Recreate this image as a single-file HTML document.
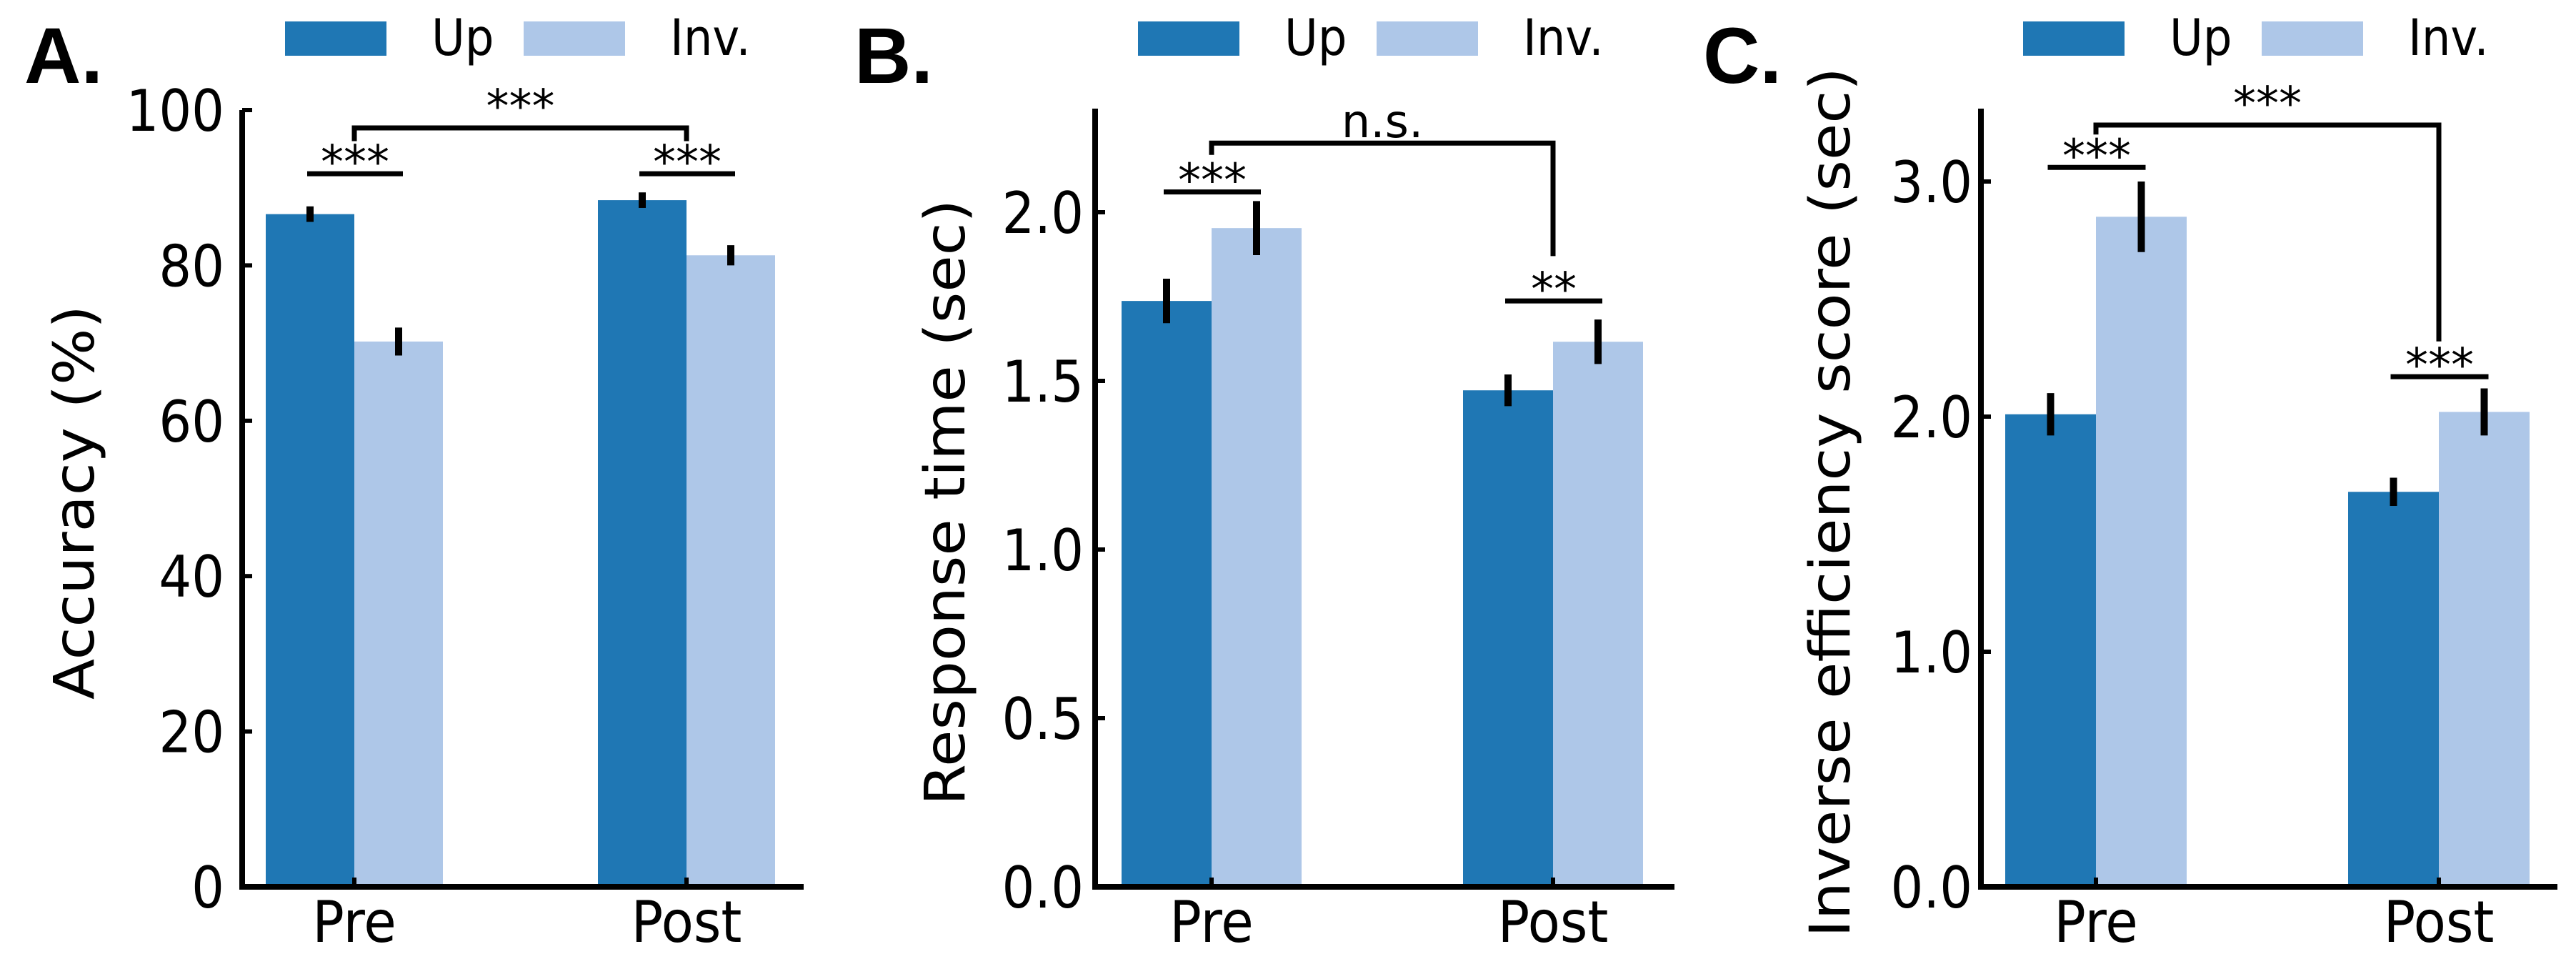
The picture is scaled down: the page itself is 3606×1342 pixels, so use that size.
<!DOCTYPE html>
<html><head><meta charset="utf-8"><style>
html,body{margin:0;padding:0;background:#fff;}
svg{display:block;font-family:"DejaVu Sans","Liberation Sans",sans-serif;}
</style></head><body>
<svg id="fig" width="3606" height="1342" viewBox="0 0 3606 1342" xmlns="http://www.w3.org/2000/svg"></svg>
<script>
const categories = ["Pre", "Post"];
const seriesNames = ["Up", "Inv."];
const accUp = [86.6, 88.4];
const accInv = [70.2, 81.3];
const accUpErr = [1.0, 1.0];
const accInvErr = [1.8, 1.3];
const accTicks = [0, 20, 40, 60, 80, 100];
const accTickLabels = ["0", "20", "40", "60", "80", "100"];
const rtUp = [1.737, 1.472];
const rtInv = [1.953, 1.616];
const rtUpErr = [0.066, 0.047];
const rtInvErr = [0.08, 0.066];
const rtTicks = [0, 0.5, 1.0, 1.5, 2.0];
const rtTickLabels = ["0.0", "0.5", "1.0", "1.5", "2.0"];
const ieUp = [2.01, 1.68];
const ieInv = [2.85, 2.02];
const ieUpErr = [0.09, 0.06];
const ieInvErr = [0.15, 0.10];
const ieTicks = [0, 1.0, 2.0, 3.0];
const ieTickLabels = ["0.0", "1.0", "2.0", "3.0"];

const NS = "http://www.w3.org/2000/svg";
const svg = document.getElementById("fig");
function mk(tag, attrs, parent) {
  const e = document.createElementNS(NS, tag);
  for (const k in attrs) e.setAttribute(k, attrs[k]);
  (parent || svg).appendChild(e);
  return e;
}
const UPC = "#1f77b4", INVC = "#aec7e8";

const panels = [
  {letter:"A.", lx:34, name:"accuracy", ylabel:"Accuracy (%)", ylx:103, axX:339, axEnd:1125, y0:1241, ymax:100, ytop:154,
   centers:[496,961], bw:124, up:accUp, inv:accInv, upE:accUpErr, invE:accInvErr, ticks:accTicks, tl:accTickLabels, tlx:314,
   leg:399, big:{y:97.7, l:96, r:96, txt:"***"}, pairs:[{y:91.8, txt:"***"},{y:91.8, txt:"***"}]},
  {letter:"B.", lx:1196, name:"response-time", ylabel:"Response time (sec)", ylx:1322, axX:1533, axEnd:2344, y0:1241, ymax:2.0, ytop:152,
   centers:[1696,2174], bw:126, up:rtUp, inv:rtInv, upE:rtUpErr, invE:rtInvErr, ticks:rtTicks, tl:rtTickLabels, tlx:1517,
   leg:1593, big:{y:2.205, l:2.17, r:1.87, txt:"n.s."}, pairs:[{y:2.06, txt:"***"},{y:1.737, txt:"**"}]},
  {letter:"C.", lx:2384, name:"inverse-efficiency", ylabel:"Inverse efficiency score (sec)", ylx:2561, axX:2773, axEnd:3580, y0:1241, ymax:3.0, ytop:152,
   centers:[2934,3414], bw:127, up:ieUp, inv:ieInv, upE:ieUpErr, invE:ieInvErr, ticks:ieTicks, tl:ieTickLabels, tlx:2761,
   leg:2832, big:{y:3.24, l:3.2, r:2.32, txt:"***"}, pairs:[{y:3.06, txt:"***"},{y:2.17, txt:"***"}]}
];
const tickPx = [154, 297, 254];

panels.forEach((p, pi) => {
  const g = mk("g", {});
  
  
  const maxTickY = tickPx[pi];
  const scale = (p.y0 - maxTickY) / p.ymax;
  const Y = v => p.y0 - v * scale;

  categories.forEach((c, i) => {
    const cx = p.centers[i];
    const b1 = mk("rect", {x:cx - p.bw, y:Y(p.up[i]), width:p.bw, height:p.y0 - Y(p.up[i]), fill:UPC}, g);
    
    
    const b2 = mk("rect", {x:cx, y:Y(p.inv[i]), width:p.bw, height:p.y0 - Y(p.inv[i]), fill:INVC}, g);
    
    
    const e1 = mk("line", {x1:cx - p.bw/2, x2:cx - p.bw/2, y1:Y(p.up[i] - p.upE[i]), y2:Y(p.up[i] + p.upE[i]), stroke:"#000", "stroke-width":10}, g);
    
    
    const e2 = mk("line", {x1:cx + p.bw/2, x2:cx + p.bw/2, y1:Y(p.inv[i] - p.invE[i]), y2:Y(p.inv[i] + p.invE[i]), stroke:"#000", "stroke-width":10}, g);
    
    
    mk("line", {x1:cx, x2:cx, y1:p.y0, y2:p.y0 - 13, stroke:"#000", "stroke-width":6}, g);
    const xl = mk("text", {x:0, y:0, "font-size":74, "text-anchor":"middle", fill:"#000", transform:`translate(${cx},1318) scale(1,1.08)`}, g);
    xl.textContent = c;
    
    
  });

  const ya = mk("line", {x1:p.axX, x2:p.axX, y1:p.ytop, y2:p.y0 + 4, stroke:"#000", "stroke-width":8}, g);
  
  
  const xa = mk("line", {x1:p.axX - 4, x2:p.axEnd, y1:p.y0, y2:p.y0, stroke:"#000", "stroke-width":8}, g);
  
  

  p.ticks.forEach((t, k) => {
    mk("line", {x1:p.axX, x2:p.axX + 14, y1:Y(t), y2:Y(t), stroke:"#000", "stroke-width":6}, g);
    const tl = mk("text", {x:0, y:0, "font-size":72, "text-anchor":"end", fill:"#000", transform:`translate(${p.tlx},${Y(t) + 29}) scale(1,1.12)`}, g);
    tl.textContent = p.tl[k];
    
    
  });

  const yl = mk("text", {x:0, y:0, "font-size":78, "text-anchor":"middle", fill:"#000", transform:`translate(${p.ylx + 28},703) rotate(-90) scale(1.07,1)`}, g);
  yl.textContent = p.ylabel;
  
  

  const lt = mk("text", {x:p.lx, y:116, "font-size":110, "font-weight":"bold", "font-family":"Liberation Sans, sans-serif", fill:"#000"}, g);
  lt.textContent = p.letter;
  
  

  [[UPC, seriesNames[0], 0], [INVC, seriesNames[1], 334]].forEach(([col, nm, off]) => {
    const lg = mk("g", {}, g);
    
    
    mk("rect", {x:p.leg + off, y:30, width:142, height:48, fill:col}, lg);
    const t = mk("text", {x:0, y:0, "font-size":64, fill:"#000", transform:`translate(${p.leg + off + 205},77) scale(1,1.1)`}, lg);
    t.textContent = nm;
  });

  const bg = mk("g", {}, g);
  
  
  const bx1 = p.centers[0], bx2 = p.centers[1];
  mk("polyline", {points:`${bx1},${Y(p.big.l)} ${bx1},${Y(p.big.y)} ${bx2},${Y(p.big.y)} ${bx2},${Y(p.big.r)}`, fill:"none", stroke:"#000", "stroke-width":7}, bg);
  const bt = mk("text", {x:(bx1 + bx2)/2, y:Y(p.big.y) - 8, "font-size":64, "text-anchor":"middle", fill:"#000"}, bg);
  bt.textContent = p.big.txt;

  p.pairs.forEach((pr, i) => {
    const pg = mk("g", {}, g);
    
    
    const x1 = p.centers[i] - p.bw/2 - 4, x2 = p.centers[i] + p.bw/2 + 6;
    mk("line", {x1:x1, x2:x2, y1:Y(pr.y), y2:Y(pr.y), stroke:"#000", "stroke-width":7}, pg);
    const t = mk("text", {x:(x1 + x2)/2, y:Y(pr.y) + 6, "font-size":64, "text-anchor":"middle", fill:"#000"}, pg);
    t.textContent = pr.txt;
  });
});
</script>
</body></html>
